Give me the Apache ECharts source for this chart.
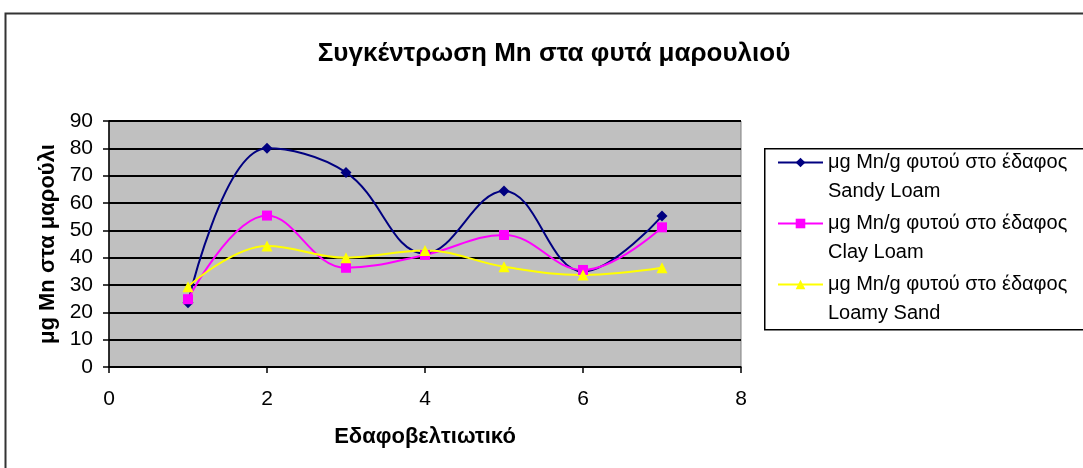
<!DOCTYPE html>
<html>
<head>
<meta charset="utf-8">
<style>
  html, body { margin: 0; padding: 0; background: #fff; }
  #chart { width: 1083px; height: 468px; }
</style>
<script src="https://cdn.jsdelivr.net/npm/echarts@6/dist/echarts.min.js"></script>
</head>
<body>
<div id="chart"></div>
<script>
// Εδαφοβελτιωτικό (x) values
const xValues = [1, 2, 3, 4, 5, 6, 7];
const sandyLoam = [23.5, 80, 71.2, 41.5, 64.4, 34.9, 55.2];
const clayLoam = [24.8, 55.4, 36.3, 41, 48.3, 35.5, 51.1];
const loamySand = [29.4, 44.3, 40, 42.6, 36.7, 33.7, 36.3];
const seriesNames = [
  'μg Mn/g φυτού στο έδαφος\nSandy Loam',
  'μg Mn/g φυτού στο έδαφος\nClay Loam',
  'μg Mn/g φυτού στο έδαφος\nLoamy Sand'
];

const font = '"Liberation Sans", Arial, sans-serif';

const pairs = arr => xValues.map((x, i) => [x, arr[i]]);

const chart = echarts.init(document.getElementById('chart'));

chart.setOption({
  animation: false,
  title: {
    text: 'Συγκέντρωση Mn στα φυτά μαρουλιού',
    left: 549,
    textAlign: 'center',
    top: 36,
    textStyle: { fontFamily: font, fontSize: 26, fontWeight: 'bold', color: '#000' }
  },
  graphic: [
    {
      type: 'rect', left: 3, top: 11, z: -1,
      shape: { width: 1200, height: 600 },
      style: { fill: 'none', stroke: '#333', lineWidth: 2 }
    },
    {
      type: 'rect', left: 764, top: 148,
      shape: { width: 400, height: 181 },
      style: { fill: '#fff', stroke: '#000', lineWidth: 1.5 }
    }
  ],
  legend: {
    orient: 'vertical',
    left: 772,
    top: 114,
    itemWidth: 45,
    itemHeight: 12,
    itemGap: -26,
    selectedMode: false,
    data: seriesNames,
    // blank first line keeps the symbol level with the first text line
    formatter: name => ' \n' + name,
    textStyle: { fontFamily: font, fontSize: 20, color: '#000', lineHeight: 29 }
  },
  grid: { left: 109, right: 342, top: 121, bottom: 101, show: true,
    backgroundColor: '#c0c0c0', borderColor: '#808080', borderWidth: 1 },
  xAxis: {
    type: 'value', min: 0, max: 8, interval: 2,
    name: 'Εδαφοβελτιωτικό', nameLocation: 'middle', nameGap: 59,
    nameTextStyle: { fontFamily: font, fontSize: 22, fontWeight: 'bold', color: '#000' },
    axisLine: { lineStyle: { color: '#000', width: 1.5 } },
    axisTick: { show: true, length: 6, lineStyle: { color: '#000', width: 1.5 } },
    axisLabel: { fontFamily: font, fontSize: 21, color: '#000', margin: 22 },
    splitLine: { show: false }
  },
  yAxis: {
    type: 'value', min: 0, max: 90, interval: 10,
    name: 'μg Mn στα μαρούλι', nameLocation: 'middle', nameGap: 50,
    nameTextStyle: { fontFamily: font, fontSize: 22, fontWeight: 'bold', color: '#000' },
    axisLine: { show: true, lineStyle: { color: '#000', width: 1.5 } },
    axisTick: { show: true, length: 6, lineStyle: { color: '#000', width: 1.5 } },
    axisLabel: { fontFamily: font, fontSize: 21, color: '#000', margin: 16 },
    splitLine: { show: true, lineStyle: { color: '#000', width: 2 } }
  },
  series: [
    {
      name: seriesNames[0], type: 'line', smooth: 0.4, data: pairs(sandyLoam),
      symbol: 'diamond', symbolSize: 11,
      lineStyle: { color: '#000080', width: 2 },
      itemStyle: { color: '#000080' }
    },
    {
      name: seriesNames[1], type: 'line', smooth: 0.4, data: pairs(clayLoam),
      symbol: 'rect', symbolSize: 10,
      lineStyle: { color: '#ff00ff', width: 2 },
      itemStyle: { color: '#ff00ff' }
    },
    {
      name: seriesNames[2], type: 'line', smooth: 0.4, data: pairs(loamySand),
      symbol: 'triangle', symbolSize: 11,
      lineStyle: { color: '#ffff00', width: 2 },
      itemStyle: { color: '#ffff00' }
    }
  ]
});
</script>
</body>
</html>
